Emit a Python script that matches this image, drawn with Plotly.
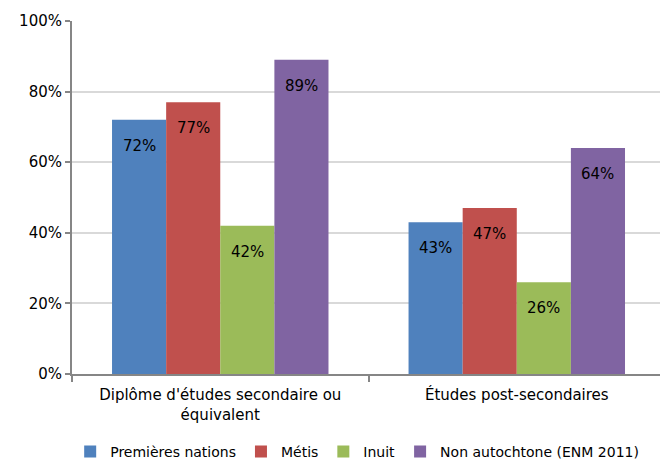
import plotly.graph_objects as go

categories = ["Diplôme d'études secondaire ou<br>équivalent", "Études post-secondaires"]
series_names = ["Premières nations", "Métis", "Inuit", "Non autochtone (ENM 2011)"]
premieres_nations = [72, 43]
metis = [77, 47]
inuit = [42, 26]
non_autochtone = [89, 64]
y_ticks = [0, 20, 40, 60, 80, 100]
y_tick_labels = ["0%", "20%", "40%", "60%", "80%", "100%"]

colors = ["#4F81BD", "#C0504D", "#9BBB59", "#8064A2"]
values = [premieres_nations, metis, inuit, non_autochtone]
FONT = "DejaVu Sans"

W, H = 660, 462
ML, MR, MT, MB = 72, 0, 21, 88
x_range = [-0.5, 1.483]
bargap = 0.27
px_per_unit = (W - ML - MR) / (x_range[1] - x_range[0])
bar_px = (1 - bargap) * px_per_unit / len(values)

fig = go.Figure()
for name, vals, col in zip(series_names, values, colors):
    fig.add_trace(go.Bar(
        name=name, x=categories, y=vals,
        marker=dict(color=col, line=dict(width=0)),
    ))

annotations = []
n = len(values)
for i, vals in enumerate(values):
    for cat, v in zip(categories, vals):
        annotations.append(dict(
            x=cat, y=v, xref="x", yref="y", text="%d%%" % v, showarrow=False,
            xshift=(i - (n - 1) / 2) * bar_px, yshift=-26, yanchor="middle",
            font=dict(family=FONT, size=15, color="#000000"),
        ))

fig.update_layout(
    width=W, height=H,
    margin=dict(l=ML, r=MR, t=MT, b=MB, autoexpand=False),
    paper_bgcolor="white", plot_bgcolor="white",
    barmode="group", bargap=bargap, bargroupgap=0,
    font=dict(family=FONT, size=15, color="#000000"),
    showlegend=True,
    legend=dict(orientation="h", xanchor="center", x=0.485, yref="paper",
                y=-(452 - 374) / (H - MT - MB), yanchor="middle",
                font=dict(family=FONT, size=14), traceorder="normal", itemwidth=30,
                bgcolor="rgba(0,0,0,0)"),
    annotations=annotations,
)
fig.update_xaxes(range=x_range, showline=True, linecolor="#868686", linewidth=2,
                 ticks="outside", tickson="boundaries", ticklen=6, tickcolor="#868686",
                 tickwidth=2, tickfont=dict(family=FONT, size=15), showgrid=False,
                 automargin=False, ticklabelstandoff=6)
fig.update_yaxes(range=[0, 100], tickvals=y_ticks, ticktext=y_tick_labels,
                 showline=True, linecolor="#868686", linewidth=2,
                 ticks="outside", ticklen=5, tickcolor="#868686", tickwidth=2,
                 showgrid=True, gridcolor="#D9D9D9", gridwidth=2,
                 tickfont=dict(family=FONT, size=15), zeroline=False, automargin=False)

fig.write_html("out.html", config={"displayModeBar": False},
               post_script="document.body.style.margin='0';document.body.style.overflow='hidden';")
